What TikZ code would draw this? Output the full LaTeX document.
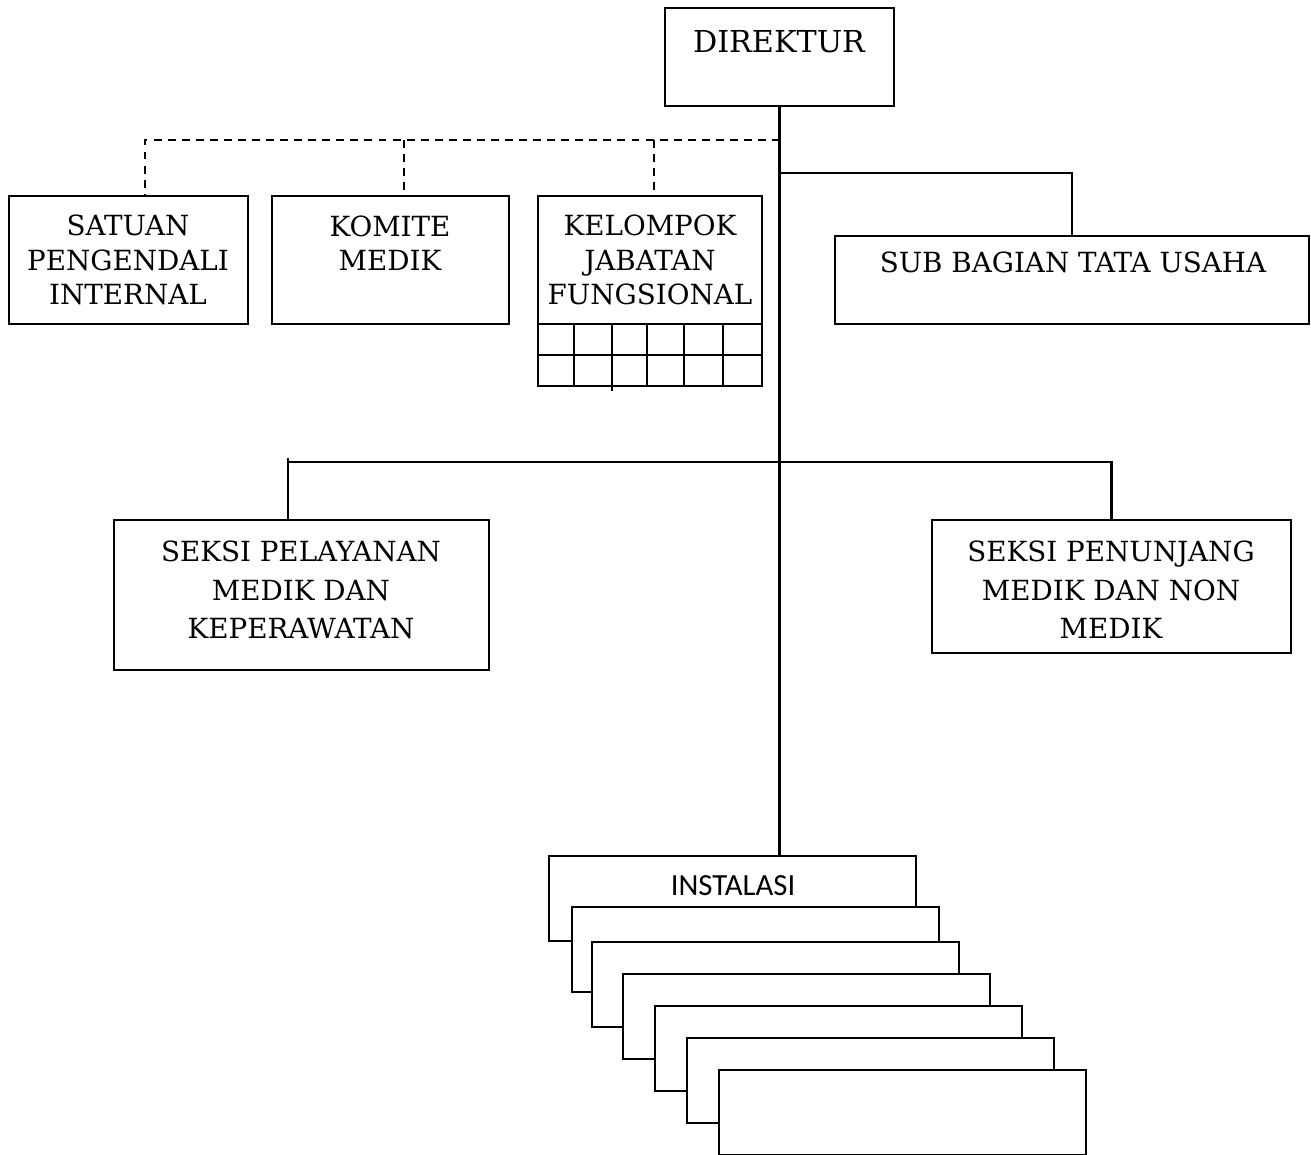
\documentclass[tikz,border=0pt]{standalone}
\usepackage{fontspec}
\setmainfont{DejaVu Serif}
\newfontfamily\instfont{Carlito}
\usetikzlibrary{fit, calc, positioning}

\begin{document}
\begin{tikzpicture}[
    x=0.02cm, y=-0.02cm,
    line width=1.2pt,
    box/.style={rectangle, draw, fill=white, inner sep=0pt},
    boxtext/.style={align=center, inner sep=0pt, font=\fontsize{15.8}{19.5}\selectfont},
    seksitext/.style={align=center, inner sep=0pt, font=\fontsize{15.8}{22}\selectfont},
    insttext/.style={inner sep=0pt, font=\instfont\fontsize{17.5}{20}\selectfont},
    dlink/.style={dash pattern=on 4.5pt off 3.5pt}
]

    \useasboundingbox (0,0) rectangle (1311,1155);

    % Boxes ------------------------------------------------------

    \node[box, fit={(665,8) (894,106)}] (dir) {};
    \node[boxtext, font=\fontsize{17.2}{20}\selectfont] (dirtext) at (779,42) {DIREKTUR};

    \node[box, fit={(9,196) (248,324)}] (spi) {};
    \node[boxtext] (spitext) at (128,260) {SATUAN\\PENGENDALI\\INTERNAL};

    \node[box, fit={(272,196) (509,324)}] (km) {};
    \node[boxtext] (kmtext) at (390,243) {KOMITE\\MEDIK};

    \node[box, fit={(538,196) (762,324)}] (kjf) {};
    \node[boxtext] (kjftext) at (650,260) {KELOMPOK\\JABATAN\\FUNGSIONAL};
    \node[box, fit={(538,324) (762,386)}] (kjfgrid) {};
    \foreach \x in {574,647,684,723}
        \draw (\x,324) -- (\x,386);
    \draw (612,324) -- (612,391);
    \draw (538,355) -- (762,355);

    \node[box, fit={(835,236) (1309,324)}] (sbtu) {};
    \node[boxtext] (sbtutext) at (1073,262) {SUB BAGIAN TATA USAHA};

    \node[box, fit={(114,520) (489,670)}] (spmk) {};
    \node[seksitext] (spmktext) at (301,590) {SEKSI PELAYANAN\\MEDIK DAN\\KEPERAWATAN};

    \node[box, fit={(932,520) (1291,653)}] (spnm) {};
    \node[seksitext] (spnmtext) at (1111,590) {SEKSI PENUNJANG\\MEDIK DAN NON\\MEDIK};

    % Instalasi stack
    \foreach \x/\y [count=\i] in {549/856, 572/907, 592/942, 623/974, 655/1006, 687/1038, 719/1070}
        \node[box, fit={(\x,\y) (\x+367,\y+85)}] (inst\i) {};
    \node[insttext] (insttext) at (733,886) {INSTALASI};

    % Lines ------------------------------------------------------

    \coordinate (staff) at (780,140);
    \coordinate (tu) at (780,173);
    \coordinate (seksi) at (780,462);

    % Trunk
    \draw (dir.south) -- (dir.south |- inst1.north);

    % Dashed staff lines
    \draw[dlink] (staff) -- (staff -| 145,0) -- (spi.north -| 145,0);
    \draw[dlink] (staff -| 404,0) -- (km.north -| 404,0);
    \draw[dlink] (staff -| 654,0) -- (kjf.north -| 654,0);

    % Sub bagian
    \draw (tu) -- (tu -| sbtu.north) -- (sbtu.north);

    % Seksi
    \draw (288,458) -- (spmk.north -| 288,0);
    \draw (seksi -| 288,0) -- (seksi -| spnm.north) -- (spnm.north);

\end{tikzpicture}
\end{document}
